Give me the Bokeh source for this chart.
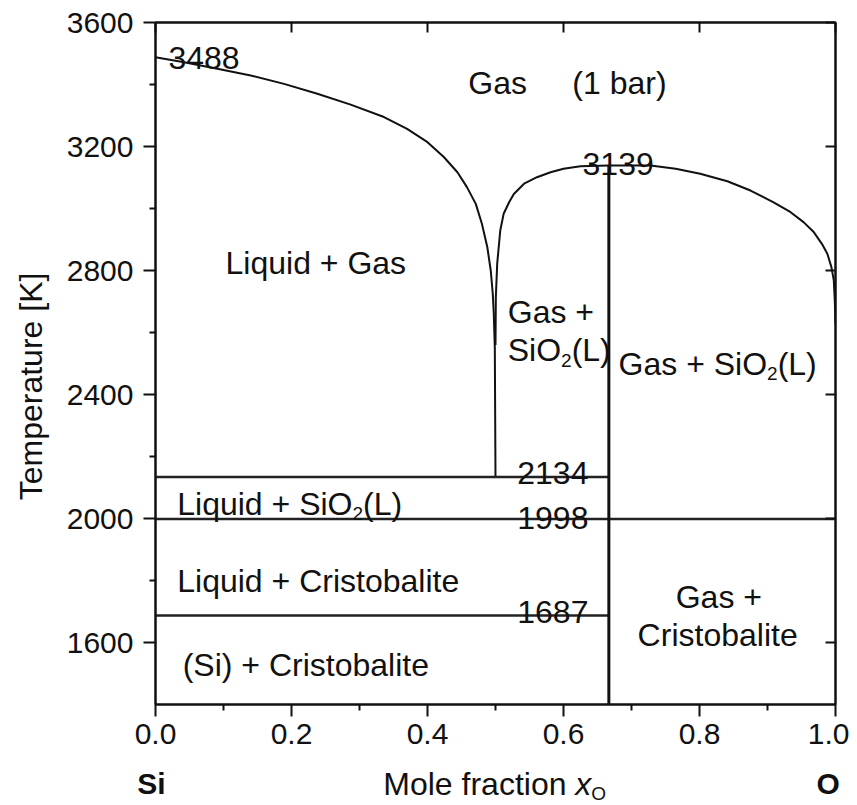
import math
from bokeh.plotting import figure
from bokeh.layouts import row, column
from bokeh.models import LinearAxis, FixedTicker, NumeralTickFormatter, Label, Range1d
from bokeh.embed import file_html
from bokeh.resources import INLINE

# ---------------- data ----------------
# Liquid/Gas boundary on the Si-rich side (x_O, T in K)
left_x = [0.0, 0.042, 0.091, 0.140, 0.189, 0.238, 0.287, 0.336, 0.370, 0.400, 0.424,
          0.444, 0.458, 0.471, 0.480, 0.488, 0.493, 0.496, 0.4975, 0.499, 0.5]
left_T = [3488, 3472, 3451, 3429, 3402, 3370, 3335, 3295, 3257, 3214, 3166,
          3117, 3069, 3015, 2951, 2875, 2800, 2725, 2660, 2550, 2134]
# Gas/SiO2(L) boundary on the O-rich side
right_x = [0.5, 0.5005, 0.5025, 0.507, 0.512, 0.520, 0.527, 0.542, 0.561, 0.581, 0.600,
           0.625, 0.6667, 0.728, 0.765, 0.801, 0.841, 0.875, 0.909, 0.934, 0.953,
           0.968, 0.980, 0.988, 0.994, 0.9975, 0.999, 1.0]
right_T = [2560, 2714, 2822, 2929, 2983, 3020, 3047, 3080, 3101, 3117, 3128,
           3136, 3139, 3139, 3128, 3112, 3088, 3058, 3020, 2988, 2956,
           2924, 2886, 2854, 2811, 2768, 2700, 2629]

x_sio2 = 0.6667           # SiO2 composition
T_max_sio2 = 3139
T_mono = 2134             # monotectic
T_sio2_melt = 1998        # SiO2 melting
T_si_melt = 1687          # Si melting

x_ticks = [0.0, 0.2, 0.4, 0.6, 0.8, 1.0]
x_minor = [0.1, 0.3, 0.5, 0.7, 0.9]
y_ticks = [1600, 2000, 2400, 2800, 3200, 3600]
y_minor = [1800, 2200, 2600, 3000, 3400]

FONT = "Liberation Sans"
INK = "#111111"

# layout sizes (pixels)
LEFT_STRIP = 50
MAIN_W, MAIN_H = 799, 764
BOTTOM_H = 38
BORDER_L, BORDER_R, BORDER_T, BORDER_B = 105, 14, 22, 60

p = figure(width=MAIN_W, height=MAIN_H, x_range=Range1d(0, 1), y_range=Range1d(1400, 3600),
           output_backend="svg", toolbar_location=None, title=None,
           x_axis_location=None, y_axis_location=None,
           min_border_left=BORDER_L, min_border_right=BORDER_R,
           min_border_top=BORDER_T, min_border_bottom=BORDER_B)
p.background_fill_color = "white"
p.border_fill_color = "white"
p.outline_line_color = INK
p.outline_line_width = 2
p.grid.visible = False


def style_axis(ax, labels=True, tick_in=0, tick_out=12, minor_out=6, standoff=8):
    ax.axis_line_color = INK
    ax.axis_line_width = 2
    ax.major_tick_line_color = INK
    ax.major_tick_line_width = 2
    ax.minor_tick_line_color = INK
    ax.minor_tick_line_width = 2
    ax.major_tick_in = tick_in
    ax.major_tick_out = tick_out
    ax.minor_tick_in = 0
    ax.minor_tick_out = minor_out
    ax.major_label_text_font = FONT
    ax.major_label_text_color = INK
    ax.major_label_standoff = standoff
    if labels:
        ax.major_label_text_font_size = "30px"
    else:
        ax.major_label_text_font_size = "0px"
        ax.major_label_standoff = 0


xb = LinearAxis(ticker=FixedTicker(ticks=x_ticks, minor_ticks=x_minor),
                formatter=NumeralTickFormatter(format="0.0"))
style_axis(xb, standoff=7)
p.add_layout(xb, "below")

yl = LinearAxis(ticker=FixedTicker(ticks=y_ticks, minor_ticks=y_minor))
style_axis(yl, standoff=10)
p.add_layout(yl, "left")

xt = LinearAxis(ticker=FixedTicker(ticks=x_ticks, minor_ticks=[]))
style_axis(xt, labels=False, tick_in=10, tick_out=0, minor_out=0)
p.add_layout(xt, "above")

yr = LinearAxis(ticker=FixedTicker(ticks=y_ticks, minor_ticks=[]))
style_axis(yr, labels=False, tick_in=10, tick_out=0, minor_out=0)
p.add_layout(yr, "right")

# ---------------- phase boundaries ----------------
p.line(left_x, left_T, line_color=INK, line_width=2)
p.line(right_x, right_T, line_color=INK, line_width=2)
p.segment(x0=[0.0, 0.0, 0.0], y0=[T_mono, T_sio2_melt, T_si_melt],
          x1=[x_sio2, 1.0, x_sio2], y1=[T_mono, T_sio2_melt, T_si_melt],
          line_color="#222222", line_width=2.5)
p.segment(x0=[x_sio2], y0=[1400], x1=[x_sio2], y1=[T_max_sio2], line_color=INK, line_width=3)

# ---------------- text ----------------
W = {' ': 278, '(': 333, ')': 333, '+': 584, 'L': 556, 'S': 667, 'i': 222, 'O': 778,
     'q': 556, 'u': 556, 'd': 556, 'G': 778, 'a': 556, 's': 500, '2': 556, 'M': 833,
     'o': 556, 'l': 222, 'e': 556, 'f': 278, 'r': 333, 'c': 500, 't': 278, 'n': 556,
     'x': 500, 'C': 722, 'b': 556, '1': 556}


def width(t, size):
    return sum(W.get(ch, 556) for ch in t) * size / 1000.0


def text(fig, x, y, parts, size=32, bold=False, angle=0.0, align="left", baseline="alphabetic"):
    off = 0.0
    for t, kind in parts:
        fs = size if kind != "s" else 19
        style = "italic" if kind == "i" else ("bold" if bold else "normal")
        fig.add_layout(Label(x=x, y=y, text=t, x_offset=off, y_offset=(-10 if kind == "s" else 0),
                             text_font=FONT, text_font_size=f"{fs}px", text_color=INK,
                             text_font_style=style, text_align=align, text_baseline=baseline,
                             angle=angle))
        off += width(t, fs)


text(p, 0.019, 3487, [("3488", "n")])
text(p, 0.628, 3145, [("3139", "n")])
text(p, 0.532, 2148, [("2134", "n")])
text(p, 0.532, 2003, [("1998", "n")])
text(p, 0.532, 1697, [("1687", "n")])

text(p, 0.460, 3406, [("Gas", "n")])
text(p, 0.613, 3406, [("(1 bar)", "n")])
text(p, 0.103, 2823, [("Liquid + Gas", "n")])
text(p, 0.518, 2665, [("Gas +", "n")])
text(p, 0.518, 2542, [("SiO", "n"), ("2", "s"), ("(L)", "n")])
text(p, 0.681, 2500, [("Gas + SiO", "n"), ("2", "s"), ("(L)", "n")])
text(p, 0.032, 2048, [("Liquid + SiO", "n"), ("2", "s"), ("(L)", "n")])
text(p, 0.032, 1800, [("Liquid + Cristobalite", "n")])
text(p, 0.040, 1526, [("(Si) + Cristobalite", "n")])
text(p, 0.765, 1748, [("Gas +", "n")])
text(p, 0.709, 1623, [("Cristobalite", "n")])


def strip(w, h, xr, yr, **kw):
    f = figure(width=w, height=h, x_range=xr, y_range=yr, output_backend="svg",
               toolbar_location=None, title=None,
               x_axis_location=None, y_axis_location=None, **kw)
    f.outline_line_color = None
    f.background_fill_color = "white"
    f.border_fill_color = "white"
    f.grid.visible = False
    return f


# left strip: y-axis title, sharing the temperature scale
pl = strip(LEFT_STRIP, MAIN_H, Range1d(0, LEFT_STRIP), p.y_range,
           min_border_left=0, min_border_right=0,
           min_border_top=BORDER_T, min_border_bottom=BORDER_B)
text(pl, 30, 2426, [("Temperature [K]", "n")], size=32, angle=math.pi / 2,
     align="center", baseline="middle")

# bottom strip (full width): x-axis title and end members on the same x scale
TOTAL_W = LEFT_STRIP + MAIN_W
frame_left = LEFT_STRIP + BORDER_L
px_per_unit = MAIN_W - BORDER_L - BORDER_R
x0 = -frame_left / px_per_unit
x1 = (TOTAL_W - frame_left) / px_per_unit
pb = strip(TOTAL_W, BOTTOM_H, Range1d(x0, x1), Range1d(0, BOTTOM_H),
           min_border_left=0, min_border_right=0, min_border_top=0, min_border_bottom=0)
text(pb, 0.335, 19, [("Mole fraction ", "n"), ("x", "i"), ("O", "s")], size=32)
text(pb, -0.027, 19, [("Si", "n")], size=30, bold=True)
text(pb, 0.972, 19, [("O", "n")], size=30, bold=True)

layout = column(row(pl, p), pb)
open("out.html", "w").write(file_html(layout, INLINE))
